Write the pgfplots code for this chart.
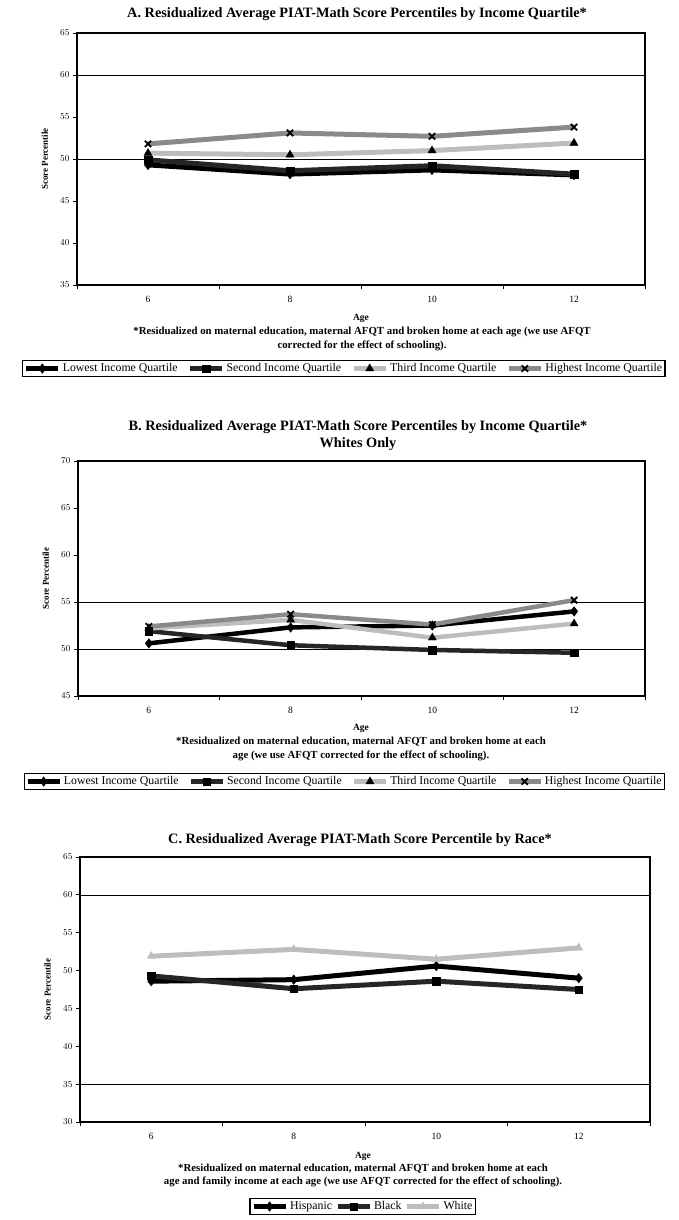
\documentclass[border=0pt]{standalone}
\usepackage{fontspec}
\setmainfont{Liberation Serif}
\usepackage{pgfplots}
\pgfplotsset{compat=1.18}
\definecolor{dk}{HTML}{262626}
\definecolor{lg}{HTML}{BDBDBD}
\definecolor{mg}{HTML}{8A8A8A}
\newcommand{\titlefont}{\fontsize{14.3}{16}\selectfont\bfseries}
\newcommand{\notefont}{\fontsize{10.8}{12}\selectfont\bfseries}
\newcommand{\agefont}{\fontsize{9.5}{11}\selectfont\bfseries}
\pgfplotsset{
  panel/.style={
    scale only axis,
    xmin=5, xmax=13,
    xtick={5,7,9,11,13}, xticklabels={},
    extra x ticks={6,8,10,12},
    extra x tick labels={6,8,10,12},
    extra x tick style={tick style={draw=none}},
    tick align=outside, tick pos=left,
    major tick length=4pt,
    tick style={black, line width=0.8pt},
    axis line style={line width=1.4pt},
    ytick distance=5,
    ticklabel style={font=\fontsize{9.5}{11}\selectfont},
    xticklabel style={yshift=-4pt},
    ylabel={Score Percentile},
    ylabel style={font=\fontsize{9}{10}\selectfont\bfseries, at={(axis description cs:-0.045,0.5)}, anchor=south, rotate=0},
    legend style={font=\fontsize{11.8}{13}\selectfont, draw=black, line width=1.2pt, inner sep=1pt},
    legend image code/.code={\draw[mark repeat=2,mark phase=2,#1] plot coordinates {(0pt,0pt) (16pt,0pt) (32pt,0pt)};},
  },
  lowest/.style={black, line width=#1, mark=diamond*, mark size=4.8pt, mark options={solid, black, line width=0.4pt}},
  second/.style={dk, line width=#1, mark=square*, mark size=3.8pt, mark options={solid, black, line width=0.4pt}},
  third/.style={lg, line width=#1, mark=triangle*, mark size=4.6pt, mark options={solid, black, fill=black, line width=0.4pt}},
  highest/.style={mg, line width=#1, mark=x, mark size=4.5pt, mark options={solid, black, line width=1.8pt}},
  white/.style={lg, line width=#1, mark=triangle*, mark size=4.6pt, mark options={solid, lg, fill=lg, line width=0.4pt}},
}
\begin{document}
\begin{tikzpicture}
\useasboundingbox (0pt,0pt) rectangle (678pt,-1220pt);
% ---------------- Panel A
\begin{axis}[panel, at={(77pt,-285pt)}, anchor=south west, width=568pt, height=252pt,
  ymin=35, ymax=65,
  extra y ticks={50,60}, extra y tick labels={}, extra y tick style={grid=major, major grid style={black, line width=0.7pt}},
  legend columns=4,
  legend style={at={(axis description cs:0.47,-0.298)}, anchor=north,
    /tikz/every even column/.append style={column sep=8pt}}]
\addplot[lowest=5pt] coordinates {(6,49.3) (8,48.2) (10,48.7) (12,48.1)};
\addlegendentry{Lowest Income Quartile}
\addplot[second=5pt] coordinates {(6,49.9) (8,48.6) (10,49.2) (12,48.2)};
\addlegendentry{Second Income Quartile}
\addplot[third=5pt] coordinates {(6,50.7) (8,50.5) (10,51.0) (12,51.9)};
\addlegendentry{Third Income Quartile}
\addplot[highest=5pt] coordinates {(6,51.8) (8,53.1) (10,52.7) (12,53.8)};
\addlegendentry{Highest Income Quartile}
\end{axis}
\node[font=\titlefont] at (357pt,-14pt) {A. Residualized Average PIAT-Math Score Percentiles by Income Quartile*};
\node[font=\agefont] at (361pt,-318pt) {Age};
\node[font=\notefont] at (362pt,-332pt) {*Residualized on maternal education, maternal AFQT and broken home at each age (we use AFQT};
\node[font=\notefont] at (362pt,-346pt) {corrected for the effect of schooling).};
% ---------------- Panel B
\begin{axis}[panel, at={(78pt,-696pt)}, anchor=south west, width=567pt, height=235pt,
  ymin=45, ymax=70,
  extra y ticks={50,55}, extra y tick labels={}, extra y tick style={grid=major, major grid style={black, line width=0.7pt}},
  legend columns=4,
  legend style={at={(axis description cs:0.47,-0.328)}, anchor=north,
    /tikz/every even column/.append style={column sep=8pt}}]
\addplot[lowest=4.5pt] coordinates {(6,50.6) (8,52.3) (10,52.5) (12,54.0)};
\addlegendentry{Lowest Income Quartile}
\addplot[second=4.5pt] coordinates {(6,51.9) (8,50.4) (10,49.9) (12,49.6)};
\addlegendentry{Second Income Quartile}
\addplot[third=4.5pt] coordinates {(6,52.2) (8,53.1) (10,51.2) (12,52.7)};
\addlegendentry{Third Income Quartile}
\addplot[highest=4.5pt] coordinates {(6,52.4) (8,53.7) (10,52.6) (12,55.2)};
\addlegendentry{Highest Income Quartile}
\end{axis}
\node[font=\titlefont] at (358pt,-427pt) {B. Residualized Average PIAT-Math Score Percentiles by Income Quartile*};
\node[font=\titlefont] at (358pt,-444pt) {Whites Only};
\node[font=\agefont] at (361pt,-728pt) {Age};
\node[font=\notefont] at (361pt,-742pt) {*Residualized on maternal education, maternal AFQT and broken home at each};
\node[font=\notefont] at (361pt,-756pt) {age (we use AFQT corrected for the effect of schooling).};
% ---------------- Panel C
\begin{axis}[panel, at={(80pt,-1122pt)}, anchor=south west, width=570pt, height=265pt,
  ymin=30, ymax=65,
  extra y ticks={35,60}, extra y tick labels={}, extra y tick style={grid=major, major grid style={black, line width=0.7pt}},
  legend columns=3,
  legend style={at={(axis description cs:0.496,-0.287)}, anchor=north,
    /tikz/every even column/.append style={column sep=1pt}}]
\addplot[lowest=5pt] coordinates {(6,48.6) (8,48.8) (10,50.6) (12,49.0)};
\addlegendentry{Hispanic}
\addplot[second=5pt] coordinates {(6,49.3) (8,47.6) (10,48.6) (12,47.5)};
\addlegendentry{Black}
\addplot[white=5pt] coordinates {(6,51.9) (8,52.8) (10,51.5) (12,53.0)};
\addlegendentry{White}
\end{axis}
\node[font=\titlefont] at (360pt,-840pt) {C. Residualized Average PIAT-Math Score Percentile by Race*};
\node[font=\agefont] at (363pt,-1156pt) {Age};
\node[font=\notefont] at (363pt,-1169pt) {*Residualized on maternal education, maternal AFQT and broken home at each};
\node[font=\notefont] at (363pt,-1182pt) {age and family income at each age (we use AFQT corrected for the effect of schooling).};
\end{tikzpicture}
\end{document}
